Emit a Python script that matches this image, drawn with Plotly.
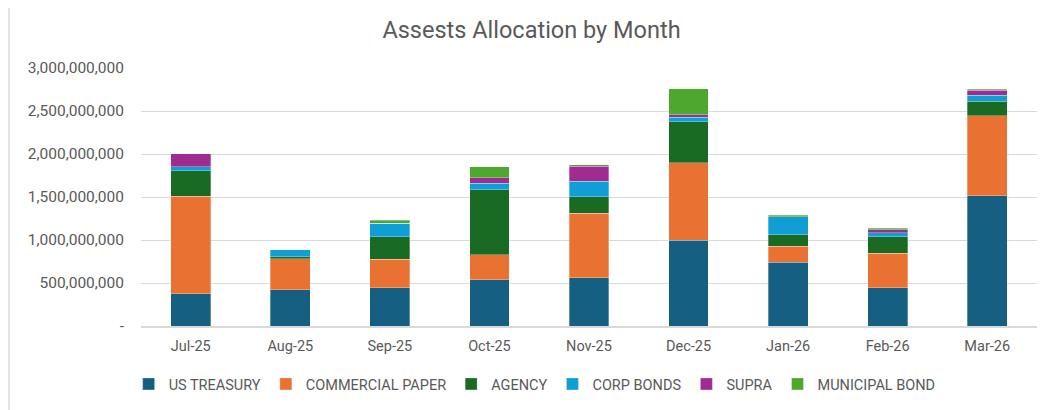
import plotly.graph_objects as go

months = ["Jul-25", "Aug-25", "Sep-25", "Oct-25", "Nov-25", "Dec-25", "Jan-26", "Feb-26", "Mar-26"]
us_treasury = [373e6, 420e6, 447e6, 536e6, 560e6, 1000e6, 742e6, 443e6, 1516e6]
commercial_paper = [1135e6, 361e6, 330e6, 292e6, 754e6, 898e6, 183e6, 404e6, 929e6]
agency = [299e6, 24e6, 261e6, 758e6, 190e6, 478e6, 136e6, 191e6, 167e6]
corp_bonds = [47e6, 81e6, 155e6, 74e6, 179e6, 54e6, 210e6, 46e6, 74e6]
supra = [148e6, 0, 0, 66e6, 175e6, 24e6, 0, 35e6, 54e6]
municipal_bond = [0, 0, 35e6, 124e6, 16e6, 307e6, 16e6, 16e6, 12e6]

series_names = ["US TREASURY", "COMMERCIAL PAPER", "AGENCY", "CORP BONDS", "SUPRA", "MUNICIPAL BOND"]
series_values = [us_treasury, commercial_paper, agency, corp_bonds, supra, municipal_bond]
colors = ["#156082", "#E97132", "#196B24", "#0F9ED5", "#A02B93", "#4EA72E"]

y_tickvals = [0, 500e6, 1000e6, 1500e6, 2000e6, 2500e6, 3000e6]
y_ticktext = ["-", "500,000,000", "1,000,000,000", "1,500,000,000", "2,000,000,000", "2,500,000,000", "3,000,000,000"]

font_family = "Roboto, Noto Sans, sans-serif"
text_color = "#595959"

fig = go.Figure()
for name, vals, c in zip(series_names, series_values, colors):
    fig.add_trace(go.Bar(
        x=months, y=vals, name=name,
        marker=dict(color=c, line=dict(color="rgba(255,255,255,0.5)", width=0.6)),
    ))

fig.update_layout(
    barmode="stack",
    bargap=0.6,
    width=1047, height=410,
    margin=dict(l=133, r=18, t=60, b=92),
    paper_bgcolor="white", plot_bgcolor="white",
    font=dict(family=font_family, color=text_color, size=14),
    title=dict(text="Assests Allocation by Month", x=0.5, xanchor="center", xref="container",
               y=0.946, yanchor="middle",
               font=dict(size=23.5, color=text_color, family=font_family)),
    legend=dict(orientation="h", xref="container", x=0.503, xanchor="center",
                yref="container", y=0.083, yanchor="middle",
                font=dict(size=14.5, color=text_color), traceorder="normal",
                itemwidth=30),
    showlegend=True,
)
fig.update_xaxes(showline=True, linecolor="#D9D9D9", linewidth=1.5, ticks="",
                 tickfont=dict(size=14.5, color=text_color), showgrid=False,
                 ticklabelstandoff=6)
fig.update_yaxes(range=[0, 3000e6], tickvals=y_tickvals, ticktext=y_ticktext,
                 showgrid=True, gridcolor="#D9D9D9", gridwidth=1, zeroline=False,
                 tickfont=dict(size=15.5, color=text_color), ticks="",
                 ticklabelstandoff=16)
fig.add_shape(type="line", xref="paper", yref="paper", x0=-0.1473, x1=-0.1473, y0=-0.5, y1=1.5,
              line=dict(color="#D9D9D9", width=1.5))
fig.write_html("out.html")
